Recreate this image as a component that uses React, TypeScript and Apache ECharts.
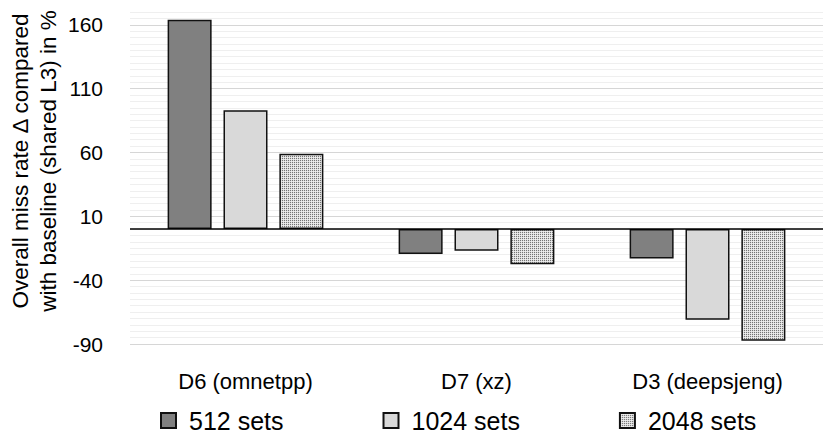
import React, { useEffect, useRef } from "react";
import * as echarts from "echarts";

const categories = ["D6 (omnetpp)", "D7 (xz)", "D3 (deepsjeng)"];
const seriesNames = ["512 sets", "1024 sets", "2048 sets"];
const sets512 = [164, -19.5, -23];
const sets1024 = [93, -17, -71];
const sets2048 = [59, -27.5, -87.5];
const yMin = -90;
const yMax = 170;
const yStep = 5;
const labelStep = 50;
const yTitleLines = ["Overall miss rate \u0394 compared", "with baseline (shared L3) in %"];

function makePattern(): any {
  const c = document.createElement("canvas");
  c.width = 2;
  c.height = 2;
  const ctx = c.getContext("2d");
  if (ctx) {
    ctx.fillStyle = "#dedede";
    ctx.fillRect(0, 0, 2, 2);
    ctx.fillStyle = "#747474";
    ctx.fillRect(0, 0, 1, 1);
    ctx.fillStyle = "#eeeeee";
    ctx.fillRect(1, 1, 1, 1);
  }
  return { image: c, repeat: "repeat", imageWidth: 2, imageHeight: 2 };
}

export default function App() {
  const ref = useRef<HTMLDivElement>(null);
  useEffect(() => {
    if (!ref.current) return;
    const chart = echarts.init(ref.current, null, { renderer: "svg" });
    const font = "'Liberation Sans', Arial, sans-serif";
    const splitColors = ["#d6d6d6"];
    for (let i = 0; i < 9; i++) splitColors.push("#efefef");
    const border = { borderColor: "#111", borderWidth: 1.5 };
    const values = [sets512, sets1024, sets2048];
    const fills: any[] = ["#808080", "#d9d9d9", makePattern()];
    chart.setOption({
      animation: false,
      textStyle: { fontFamily: font },
      grid: { left: 130, right: 7, top: 12, bottom: 94 },
      legend: {
        data: seriesNames,
        left: 155,
        top: 403,
        itemWidth: 15,
        itemHeight: 15,
        itemGap: 99,
        icon: "rect",
        textStyle: { fontSize: 25, color: "#000", fontFamily: font, padding: [0, 0, 0, 8] },
      },
      xAxis: {
        type: "category",
        data: categories,
        axisLine: { show: false, onZero: false },
        axisTick: { show: false },
        axisLabel: { fontSize: 22, color: "#000", margin: 26, fontFamily: font },
      },
      yAxis: {
        type: "value",
        min: yMin,
        max: yMax,
        interval: yStep,
        axisLine: { show: false },
        axisTick: { show: false },
        axisLabel: {
          fontSize: 21,
          color: "#000",
          margin: 27,
          fontFamily: font,
          formatter: (v: number) => ((Math.round(v) - yMin) % labelStep === 0 ? String(Math.round(v)) : ""),
        },
        splitLine: { show: true, lineStyle: { color: splitColors, width: 1 } },
      },
      graphic: [
        {
          type: "text",
          x: 34,
          y: 161,
          rotation: Math.PI / 2,
          style: {
            text: yTitleLines.join("\n"),
            fontSize: 22.5,
            lineHeight: 28,
            fontFamily: font,
            fill: "#000",
            align: "center",
            verticalAlign: "middle",
          },
        },
      ],
      series: seriesNames.map((name, i) => ({
        name,
        type: "bar",
        data: values[i],
        barWidth: 44,
        barGap: "27%",
        itemStyle: { color: fills[i], ...border },
        markLine:
          i === 0
            ? {
                silent: true,
                symbol: ["none", "none"],
                label: { show: false },
                lineStyle: { color: "#000", width: 1.5, type: "solid" },
                data: [{ yAxis: 0 }],
              }
            : undefined,
      })),
    });
    return () => chart.dispose();
  }, []);
  return (
    <div
      ref={ref}
      style={{ position: "fixed", left: 0, top: 0, width: 830, height: 438, background: "#fff" }}
    />
  );
}
